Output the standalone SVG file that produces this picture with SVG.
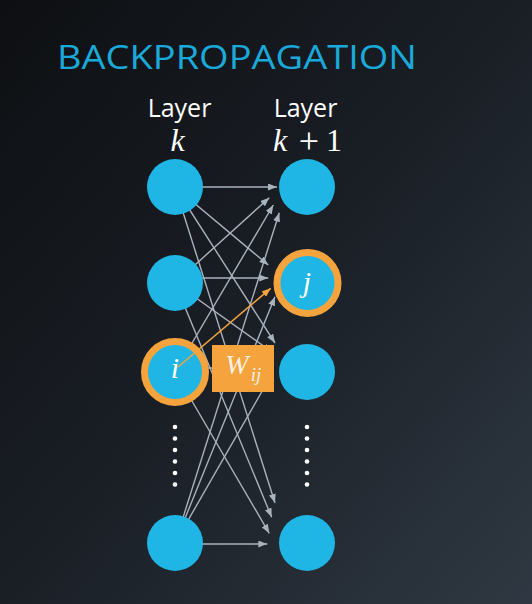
<svg xmlns="http://www.w3.org/2000/svg" width="532" height="604" viewBox="0 0 532 604">
  <defs>
    <linearGradient id="bg" x1="0" y1="0" x2="1" y2="1">
      <stop offset="0" stop-color="#0d0f12"/>
      <stop offset="0.5" stop-color="#1a1f26"/>
      <stop offset="1" stop-color="#2f3842"/>
    </linearGradient>
    <marker id="ah" markerUnits="userSpaceOnUse" markerWidth="9" markerHeight="7" refX="9" refY="3.5" orient="auto">
      <path d="M0,0 L9,3.5 L0,7 z" fill="#a9b3be"/>
    </marker>
    <marker id="aho" markerUnits="userSpaceOnUse" markerWidth="9" markerHeight="7" refX="9" refY="3.5" orient="auto">
      <path d="M0,0 L9,3.5 L0,7 z" fill="#f5a33c"/>
    </marker>
    <style>
      .title { font-family: "Open Sans", "Liberation Sans", sans-serif; font-size: 33px; font-weight: 400; fill: #1aa9d9; }
      .layer { font-family: "Open Sans", "Liberation Sans", sans-serif; font-size: 25px; fill: #ffffff; text-anchor: middle; }
      .math { font-family: "Liberation Serif", "DejaVu Serif", serif; font-style: italic; fill: #ffffff; text-anchor: middle; }
      .up { font-style: normal; }
      .node { fill: #1fb5e4; }
      .hl { fill: #1fb5e4; stroke: #f5a33c; stroke-width: 7; }
      .edge { stroke: #a9b3be; stroke-width: 1.4; fill: none; marker-end: url(#ah); }
      .edge-hl { stroke: #f5a33c; stroke-width: 1.6; fill: none; marker-end: url(#aho); }
      .dot { fill: #ffffff; }
      .wt { fill: #fbf1e1; }
    </style>
  </defs>
  <rect x="0" y="0" width="532" height="604" fill="url(#bg)"/>

  <text class="title" x="57" y="69" textLength="360" lengthAdjust="spacingAndGlyphs">BACKPROPAGATION</text>

  <g id="label-k">
    <text class="layer" x="179.5" y="117">Layer</text>
    <text class="math" x="177.5" y="151" font-size="32">k</text>
  </g>
  <g id="label-k1">
    <text class="layer" x="305.5" y="117">Layer</text>
    <text class="math" x="280" y="151" font-size="32">k</text>
    <text class="math up" x="309" y="153" font-size="36">+</text>
    <text class="math up" x="334" y="151" font-size="32">1</text>
  </g>

  <g id="connectors">
    <line class="edge" x1="200" y1="187" x2="277" y2="187"/>
    <line class="edge" x1="175" y1="187" x2="268.3" y2="265"/>
    <line class="edge" x1="175" y1="187" x2="275" y2="343"/>
    <line class="edge" x1="175" y1="187" x2="275" y2="503"/>

    <line class="edge" x1="175" y1="283" x2="269.3" y2="197.7"/>
    <line class="edge" x1="185" y1="278" x2="268.3" y2="278"/>
    <line class="edge" x1="175" y1="283" x2="272" y2="352"/>
    <line class="edge" x1="175" y1="283" x2="271.7" y2="517.3"/>

    <line class="edge" x1="175" y1="372" x2="273.3" y2="205"/>
    <line class="edge" x1="185" y1="368" x2="270" y2="368"/>
    <line class="edge" x1="175" y1="372" x2="269.3" y2="533.3"/>

    <line class="edge" x1="175" y1="543" x2="279.3" y2="212.7"/>
    <line class="edge" x1="175" y1="543" x2="275" y2="296.7"/>
    <line class="edge" x1="175" y1="543" x2="272" y2="374"/>
    <line class="edge" x1="200" y1="544" x2="267.3" y2="544"/>
  </g>

  <g id="weight">
    <rect x="212" y="345" width="62" height="47" fill="#f5a33c"/>
    <text class="math wt" x="237" y="374" font-size="28">W</text>
    <text class="math wt" x="256" y="381" font-size="19">ij</text>
  </g>

  <g id="node-k1"><circle class="node" cx="175" cy="187" r="28"/></g>
  <g id="node-k2"><circle class="node" cx="175" cy="283" r="28"/></g>
  <g id="node-i">
    <circle class="hl" cx="175" cy="372" r="30.5"/>
  </g>
  <g id="node-kn"><circle class="node" cx="175" cy="543" r="28"/></g>

  <g id="node-r1"><circle class="node" cx="307" cy="187" r="28"/></g>
  <g id="node-j">
    <circle class="hl" cx="307.5" cy="283" r="30.5"/>
    <text class="math" x="307" y="292" font-size="30">j</text>
  </g>
  <g id="node-r3"><circle class="node" cx="307" cy="372" r="28"/></g>
  <g id="node-rn"><circle class="node" cx="307" cy="543" r="28"/></g>

  <g id="highlight-edge">
    <line class="edge-hl" x1="178" y1="367" x2="270.7" y2="288.3"/>
  </g>
  <text class="math" x="175" y="378" font-size="30">i</text>

  <g id="dots-left">
    <circle class="dot" cx="175" cy="427" r="2.3"/>
    <circle class="dot" cx="175" cy="438.5" r="2.3"/>
    <circle class="dot" cx="175" cy="450" r="2.3"/>
    <circle class="dot" cx="175" cy="461.5" r="2.3"/>
    <circle class="dot" cx="175" cy="473" r="2.3"/>
    <circle class="dot" cx="175" cy="484.5" r="2.3"/>
  </g>
  <g id="dots-right">
    <circle class="dot" cx="307" cy="427" r="2.3"/>
    <circle class="dot" cx="307" cy="438.5" r="2.3"/>
    <circle class="dot" cx="307" cy="450" r="2.3"/>
    <circle class="dot" cx="307" cy="461.5" r="2.3"/>
    <circle class="dot" cx="307" cy="473" r="2.3"/>
    <circle class="dot" cx="307" cy="484.5" r="2.3"/>
  </g>
</svg>
